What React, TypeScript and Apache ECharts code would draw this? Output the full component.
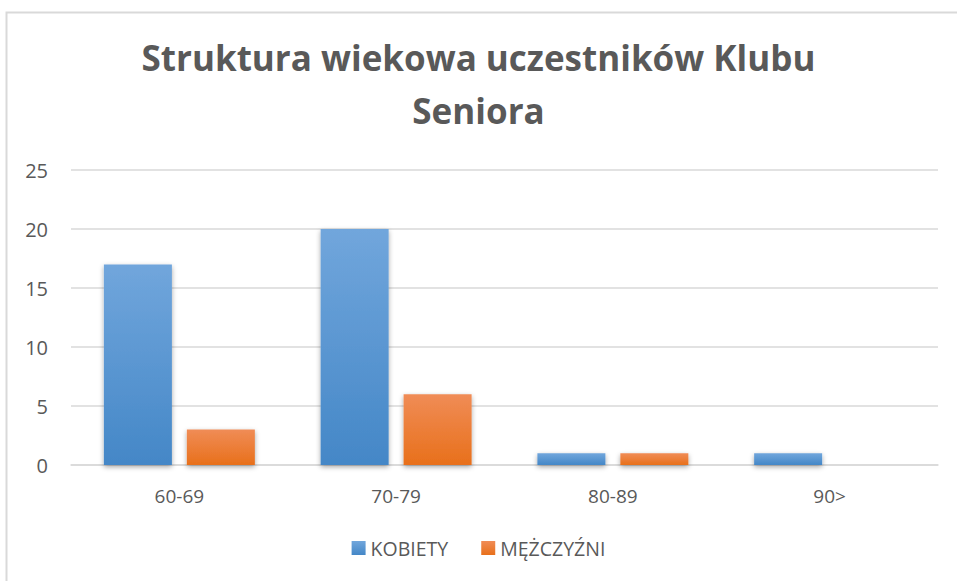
import React, { useEffect, useRef } from "react";
import * as echarts from "echarts";

const categories = ["60-69", "70-79", "80-89", "90>"];
const kobiety = [17, 20, 1, 1];
const mezczyzni = [3, 6, 1, 0];
const yTicks = { min: 0, max: 25, interval: 5 };
const titleText = "Struktura wiekowa uczestników Klubu\nSeniora";

export default function App() {
  const ref = useRef<HTMLDivElement>(null);
  useEffect(() => {
    const chart = echarts.init(ref.current!, null, { renderer: "svg" });
    const font = "'Open Sans', sans-serif";
    const grad = (top: string, bottom: string) =>
      new echarts.graphic.LinearGradient(0, 0, 0, 1, [
        { offset: 0, color: top },
        { offset: 1, color: bottom },
      ]);
    chart.setOption({
      animation: false,
      backgroundColor: "#ffffff",
      graphic: [
        {
          type: "rect",
          shape: { x: 6.5, y: 12.5, width: 1000, height: 700 },
          style: { fill: "none", stroke: "#d9d9d9", lineWidth: 2 },
          silent: true,
        },
      ],
      title: {
        text: titleText,
        left: "center",
        top: 26,
        textStyle: {
          fontFamily: font,
          fontWeight: "bold",
          fontSize: 35,
          color: "#595959",
          lineHeight: 53,
        },
      },
      legend: {
        bottom: 18,
        left: "center",
        itemWidth: 14,
        itemHeight: 14,
        itemGap: 33,
        icon: "rect",
        textStyle: { fontFamily: font, fontSize: 19.5, color: "#595959" },
        data: ["KOBIETY", "MĘŻCZYŹNI"],
      },
      grid: { left: 71, right: 19, top: 170, bottom: 116, containLabel: false },
      xAxis: {
        type: "category",
        data: categories,
        axisTick: { show: false },
        axisLine: { lineStyle: { color: "#d9d9d9", width: 1.5 } },
        axisLabel: { fontFamily: font, fontSize: 19, color: "#595959", margin: 21 },
      },
      yAxis: {
        type: "value",
        min: yTicks.min,
        max: yTicks.max,
        interval: yTicks.interval,
        axisLine: { show: false },
        axisTick: { show: false },
        splitLine: { lineStyle: { color: "#d9d9d9", width: 1.5 } },
        axisLabel: { fontFamily: font, fontSize: 20, color: "#595959", margin: 23 },
      },
      series: [
        {
          name: "KOBIETY",
          type: "bar",
          data: kobiety,
          barWidth: 68,
          barGap: "22%",
          itemStyle: {
            color: grad("#71a6dc", "#4487c7"),
            shadowColor: "rgba(0,0,0,0.35)",
            shadowBlur: 5,
            shadowOffsetY: 2,
          },
        },
        {
          name: "MĘŻCZYŹNI",
          type: "bar",
          data: mezczyzni,
          barWidth: 68,
          barGap: "22%",
          itemStyle: {
            color: grad("#f08c56", "#e8701b"),
            shadowColor: "rgba(0,0,0,0.35)",
            shadowBlur: 5,
            shadowOffsetY: 2,
          },
        },
      ],
    });
    return () => chart.dispose();
  }, []);
  return (
    <div
      ref={ref}
      style={{ position: "fixed", left: 0, top: 0, width: 957, height: 581 }}
    />
  );
}
